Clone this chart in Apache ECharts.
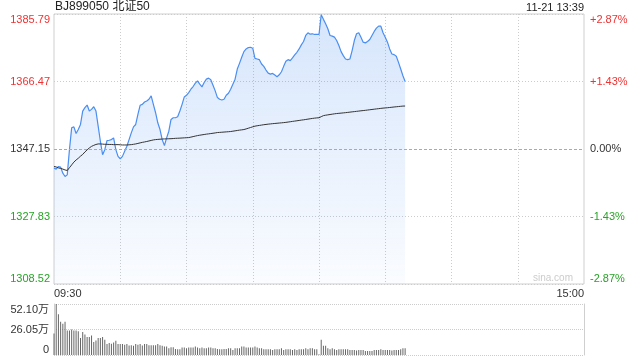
<!DOCTYPE html>
<html><head><meta charset="utf-8">
<script src="https://cdn.jsdelivr.net/npm/echarts@6/dist/echarts.min.js"></script>
<style>html,body{margin:0;padding:0;background:#fff}#c{width:640px;height:360px}</style>
</head><body><div id="c"></div>
<script>
const titleText = 'BJ899050 北证50';
const timeStamp = '11-21 13:39';
const watermark = 'sina.com';
const prevClose = 1347.15;
const priceStep = 19.3175;
const leftLabels = ['1308.52','1327.83','1347.15','1366.47','1385.79'];
const rightLabels = ['-2.87%','-1.43%','0.00%','+1.43%','+2.87%'];
const labelColors = ['#27a327','#27a327','#333333','#f03232','#f03232'];
const xLabels = ['09:30','15:00'];
const volLabels = ['0','26.05万','52.10万'];
const volStep = 26.05;

const prices = [
1341.67,1341.38,1342.15,1341.96,1340.23,1339.27,1339.75,1346.96,1353.21,1353.49,
1351.57,1352.72,1354.17,1358.01,1358.97,1359.74,1358.01,1358.49,1359.26,1358.01,
1353.69,1349.36,1345.52,1346.96,1349.55,1349.65,1349.84,1350.32,1346.96,1345.04,
1344.36,1345.04,1346.48,1347.92,1349.84,1351.76,1353.49,1354.17,1357.05,1359.65,
1359.93,1360.61,1360.90,1361.38,1362.34,1359.93,1357.53,1354.65,1352.72,1349.84,
1348.11,1350.32,1352.24,1355.61,1356.09,1356.09,1356.38,1358.01,1359.93,1362.05,
1362.53,1363.30,1364.26,1365.03,1365.99,1366.66,1365.70,1364.93,1366.18,1367.14,
1367.43,1366.95,1365.41,1363.78,1361.86,1361.38,1361.18,1361.38,1362.53,1363.11,
1364.26,1365.70,1367.14,1370.03,1371.66,1373.39,1375.02,1375.79,1376.18,1376.27,
1375.99,1373.10,1372.91,1372.72,1371.47,1370.80,1369.74,1368.87,1368.58,1368.78,
1368.30,1367.82,1368.39,1369.26,1370.80,1372.24,1372.72,1372.43,1373.20,1374.06,
1374.83,1375.79,1376.95,1377.91,1379.64,1380.41,1380.02,1380.12,1379.93,1379.93,
1379.93,1385.60,1384.25,1383.00,1381.56,1379.64,1379.45,1379.16,1378.20,1376.75,
1375.02,1373.87,1372.91,1372.72,1372.91,1375.31,1378.20,1380.12,1380.41,1379.16,
1377.72,1377.52,1377.91,1378.49,1379.64,1380.79,1381.75,1382.33,1382.33,1380.41,
1379.16,1377.72,1375.79,1374.35,1374.16,1373.68,1371.95,1370.03,1368.10,1366.47
];
const avgPrices = [
1342.15,1342.0,1341.75,1341.6,1341.4,1341.15,1341.0,1341.8,1342.6,1343.4,
1344.0,1344.5,1345.1,1345.6,1346.3,1346.9,1347.45,1347.9,1348.2,1348.45,
1348.6,1348.6,1348.55,1348.5,1348.5,1348.45,1348.45,1348.4,1348.4,1348.4,
1348.35,1348.3,1348.3,1348.3,1348.35,1348.4,1348.5,1348.6,1348.75,1348.9,
1349.05,1349.17,1349.3,1349.45,1349.6,1349.75,1349.84,1349.9,1349.95,1350.0,
1350.03,1350.05,1350.08,1350.1,1350.15,1350.2,1350.23,1350.26,1350.3,1350.34,
1350.38,1350.42,1350.55,1350.7,1350.85,1350.99,1351.1,1351.2,1351.3,1351.4,
1351.48,1351.57,1351.66,1351.75,1351.86,1351.9,1351.95,1352.0,1352.05,1352.1,
1352.15,1352.25,1352.35,1352.45,1352.55,1352.63,1352.72,1352.9,1353.1,1353.3,
1353.5,1353.69,1353.8,1353.9,1354.0,1354.1,1354.18,1354.26,1354.33,1354.4,
1354.46,1354.52,1354.58,1354.64,1354.7,1354.77,1354.86,1354.95,1355.05,1355.14,
1355.23,1355.32,1355.42,1355.5,1355.6,1355.7,1355.8,1355.9,1355.98,1356.05,
1356.09,1356.4,1356.7,1356.82,1356.92,1357.02,1357.12,1357.22,1357.3,1357.36,
1357.42,1357.48,1357.55,1357.62,1357.7,1357.78,1357.85,1357.93,1358.0,1358.08,
1358.15,1358.22,1358.3,1358.38,1358.46,1358.54,1358.62,1358.7,1358.78,1358.85,
1358.9,1358.96,1359.03,1359.1,1359.17,1359.24,1359.3,1359.37,1359.43,1359.45
];
const volumes = [
21.88,52.10,41.68,34.04,31.95,34.04,25.01,25.01,26.05,25.01,
25.01,24.31,17.37,23.62,20.84,18.41,18.41,19.80,13.20,14.93,
17.37,17.37,18.41,15.63,11.11,12.16,11.46,12.85,14.59,11.11,
11.11,11.11,10.42,11.11,9.72,10.07,9.38,11.11,10.42,11.11,
9.72,11.11,11.11,10.07,10.07,10.07,10.07,11.11,10.07,9.38,
8.68,8.68,6.95,7.99,7.99,6.25,5.90,5.90,7.64,7.64,
6.95,7.64,7.64,7.64,8.68,7.64,6.95,7.64,6.95,6.95,
7.64,7.64,6.95,6.95,6.25,5.90,5.90,6.25,6.25,6.95,
6.95,5.21,6.95,6.95,6.95,8.68,8.68,7.64,7.64,7.64,
7.64,8.68,7.64,6.95,6.95,5.90,5.90,5.90,5.90,5.21,
5.90,5.90,5.90,6.95,5.21,5.90,5.90,5.90,5.21,5.90,
5.21,5.90,5.90,5.90,6.95,5.90,6.95,6.95,5.90,5.90,
0.69,15.63,9.38,9.38,6.95,5.90,6.95,5.90,5.21,5.90,
5.90,5.90,5.90,5.90,5.21,5.21,5.21,4.51,5.21,5.21,
5.21,4.17,4.17,4.17,4.17,5.21,5.21,5.21,5.90,5.21,
5.21,5.21,5.21,4.51,5.21,5.21,5.21,5.90,6.95,6.95
];

// trading minute categories: 09:30-11:30, 13:01-15:00
function fmt(m){const h=Math.floor(m/60),mm=m%60;return (h<10?'0':'')+h+':'+(mm<10?'0':'')+mm;}
const times = [];
for (let m = 9*60+30; m <= 11*60+30; m++) times.push(fmt(m));
for (let m = 13*60+1; m <= 15*60; m++) times.push(fmt(m));
const lastIdx = times.length - 1;

const priceData = prices.map(p => (p - prevClose) / priceStep);
const avgData = avgPrices.map(p => (p - prevClose) / priceStep);

const FONT = "'Liberation Sans', Arial, 'Noto Sans CJK SC', sans-serif";
const chart = echarts.init(document.getElementById('c'), null, {renderer:'canvas'});
const dotted = {color:'#cccccc', type:[1,2], width:1};

chart.setOption({
  animation:false,
  textStyle:{fontFamily:FONT},
  grid:[
    {left:54, top:14, width:530, height:270, show:true, borderColor:'#cfcfcf', borderWidth:1, backgroundColor:'transparent'},
    {left:54, top:304, width:530, height:51, show:false}
  ],
  xAxis:[
    {type:'category', gridIndex:0, data:times, boundaryGap:false,
     axisLine:{show:false}, axisTick:{show:false},
     axisLabel:{show:true, interval:(i)=> i===0 || i===lastIdx,
       formatter:(v,i)=> i===0 ? xLabels[0] : xLabels[1],
       alignMinLabel:'left', alignMaxLabel:'right',
       margin:4, fontSize:11, color:'#333', fontFamily:FONT},
     splitLine:{show:true, interval:(i)=> i%30===0 && i>0 && i<lastIdx, lineStyle:dotted}},
    {type:'category', gridIndex:1, data:times, boundaryGap:false,
     axisLine:{show:false}, axisTick:{show:false}, axisLabel:{show:false}, splitLine:{show:false}}
  ],
  yAxis:[
    {type:'value', gridIndex:0, position:'left', min:-2, max:2, interval:1,
     axisLine:{show:false}, axisTick:{show:false},
     axisLabel:{margin:4, fontSize:11, fontFamily:FONT,
       formatter:(v)=> leftLabels[Math.round(v)+2],
       color:(v)=> labelColors[Math.round(v)+2],
       verticalAlignMinLabel:'bottom', verticalAlignMaxLabel:'top'},
     splitLine:{show:true, lineStyle:{type:[1,2], width:1, color:['#cccccc','#cccccc','transparent','#cccccc','#cccccc']}}},
    {type:'value', gridIndex:0, position:'right', min:-2, max:2, interval:1,
     axisLine:{show:false}, axisTick:{show:false},
     axisLabel:{margin:6, fontSize:11, fontFamily:FONT,
       formatter:(v)=> rightLabels[Math.round(v)+2],
       color:(v)=> labelColors[Math.round(v)+2],
       verticalAlignMinLabel:'bottom', verticalAlignMaxLabel:'top'},
     splitLine:{show:false}},
    {type:'value', gridIndex:1, position:'left', min:0, max:volStep*2, interval:volStep,
     axisLine:{show:true, onZero:false, lineStyle:{color:'#cfcfcf'}}, axisTick:{show:false},
     axisLabel:{margin:5, fontSize:11, color:'#333', fontFamily:FONT,
       formatter:(v)=> volLabels[Math.round(v/volStep)],
       verticalAlignMinLabel:'bottom', verticalAlignMaxLabel:'top'},
     splitLine:{show:true, lineStyle:{color:'#cccccc', type:[1,1], width:1}}},
    {type:'value', gridIndex:1, position:'right', min:0, max:volStep*2, interval:volStep,
     axisLine:{show:true, onZero:false, lineStyle:{color:'#cfcfcf'}}, axisTick:{show:false},
     axisLabel:{show:false}, splitLine:{show:false}}
  ],
  series:[
    {type:'line', xAxisIndex:0, yAxisIndex:0, data:priceData, showSymbol:false, symbol:'none',
     lineStyle:{color:'#4a8ef2', width:1.2}, z:3,
     areaStyle:{origin:'start', color:new echarts.graphic.LinearGradient(0,0,0,1,[
       {offset:0, color:'rgba(74,142,242,0.32)'},
       {offset:1, color:'rgba(74,142,242,0.04)'}])},
     markLine:{silent:true, symbol:'none', label:{show:false}, animation:false,
       lineStyle:{color:'#aaaaaa', type:[3,2], width:1},
       data:[{yAxis:0}]}},
    {type:'line', xAxisIndex:0, yAxisIndex:0, data:avgData, showSymbol:false, symbol:'none',
     lineStyle:{color:'#333333', width:1}, z:4},
    {type:'bar', xAxisIndex:1, yAxisIndex:2, data:volumes, barWidth:1,
     itemStyle:{color:'#666666'}}
  ],
  graphic:[
    {type:'text', left:55, top:1, style:{text:titleText, font:"12px "+FONT, fill:'#222'}},
    {type:'text', right:56, top:2, style:{text:timeStamp, font:"11px "+FONT, fill:'#222'}},
    {type:'text', right:67, top:273, style:{text:watermark, font:"10px "+FONT, fill:'#cccccc'}}
  ]
});
</script></body></html>
